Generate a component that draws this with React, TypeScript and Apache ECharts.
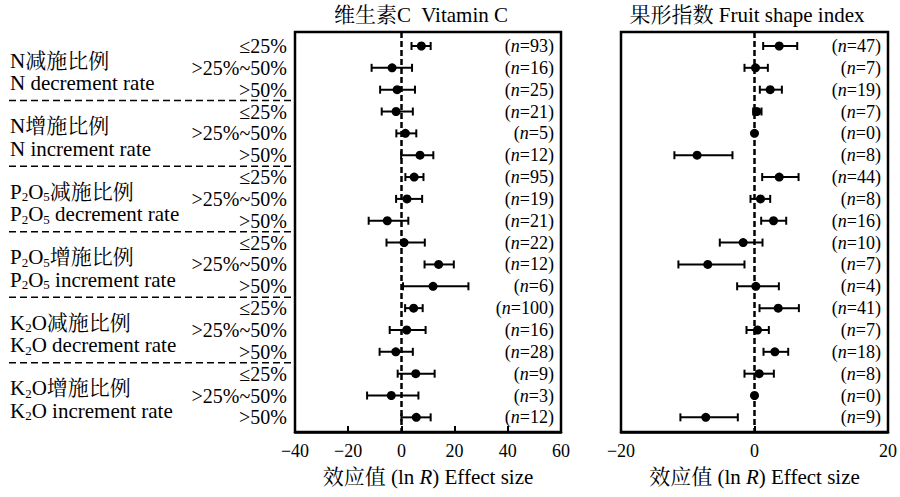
import React, { useEffect, useRef } from 'react';
import * as echarts from 'echarts';

// ---------- data ----------
const groupZh = ['N减施比例', 'N增施比例', 'P₂O₅减施比例', 'P₂O₅增施比例', 'K₂O减施比例', 'K₂O增施比例'];
const groupEn = ['N decrement rate', 'N increment rate', 'P₂O₅ decrement rate', 'P₂O₅ increment rate', 'K₂O decrement rate', 'K₂O increment rate'];
const levels = ['≤25%', '>25%~50%', '>50%'];

const vcTitle = '维生素C  Vitamin C';
const fsTitle = '果形指数 Fruit shape index';

const vcMean = [7.5, -3.5, -1.6, -2.0, 1.5, 7.0, 4.8, 2.1, -5.3, 1.0, 14.0, 11.9, 4.6, 2.0, -2.1, 5.4, -3.8, 5.6];
const vcLow = [3.8, -11.2, -8.0, -7.4, -1.9, -0.1, 1.5, -2.0, -12.3, -5.6, 8.7, 0.6, 1.4, -4.4, -8.2, -1.4, -12.9, 0.0];
const vcHigh = [11.0, 4.0, 5.1, 4.3, 5.6, 12.0, 8.3, 7.8, 2.6, 8.8, 19.7, 25.2, 8.0, 9.1, 4.3, 12.5, 6.4, 11.0];
const vcN = [93, 16, 25, 21, 5, 12, 95, 19, 21, 22, 12, 6, 100, 16, 28, 9, 3, 12];

const fsMean = [3.7, 0.15, 2.35, 0.35, 0, -8.6, 3.7, 0.9, 2.85, -1.7, -7.0, 0.2, 3.55, 0.45, 3.05, 0.7, 0, -7.3];
const fsLow = [1.3, -1.5, 0.8, -0.2, null, -12.0, 1.15, -0.6, 1.0, -5.2, -11.4, -2.6, 0.75, -1.2, 1.35, -1.5, null, -11.1];
const fsHigh = [6.4, 2.0, 4.1, 1.05, null, -3.3, 6.6, 2.35, 4.75, 1.2, -1.5, 3.65, 6.65, 2.15, 5.05, 2.9, null, -2.5];
const fsN = [47, 7, 19, 7, 0, 8, 44, 8, 16, 10, 7, 4, 41, 7, 18, 8, 0, 9];

const vcTicks = { min: -40, max: 60, interval: 20 };
const fsTicks = { min: -20, max: 20, interval: 20 };

// ---------- styling ----------
const FONT = "'Liberation Serif', 'Times New Roman', 'Noto Serif CJK SC', 'Noto Sans CJK SC', serif";
const BLACK = '#000';

const toRich = (s: string) => s.replace(/₂/g, '{s|2}').replace(/₅/g, '{s|5}');
const subRich = { s: { fontSize: 13, fontFamily: FONT, fill: BLACK, color: BLACK, padding: [10, 0, 0, 0] } };

const rowIdx = vcMean.map((_, i) => i);

function buildPanel(idx: number, mean: number[], low: (number | null)[], high: (number | null)[], nArr: number[], withLabels: boolean) {
  const series: any[] = [];
  series.push({
    type: 'custom',
    xAxisIndex: idx,
    yAxisIndex: idx,
    clip: false,
    silent: true,
    data: rowIdx.map((i) => [low[i] == null ? NaN : low[i], high[i] == null ? NaN : high[i], i]),
    renderItem: (params: any, api: any) => {
      const lo = api.value(0);
      const hi = api.value(1);
      const r = api.value(2);
      if (isNaN(lo) || isNaN(hi)) return { type: 'group', children: [] };
      const p1 = api.coord([lo, r]);
      const p2 = api.coord([hi, r]);
      const h = 4;
      const st = { stroke: BLACK, lineWidth: 2 };
      return {
        type: 'group',
        children: [
          { type: 'line', shape: { x1: p1[0], y1: p1[1], x2: p2[0], y2: p2[1] }, style: st },
          { type: 'line', shape: { x1: p1[0], y1: p1[1] - h, x2: p1[0], y2: p1[1] + h }, style: st },
          { type: 'line', shape: { x1: p2[0], y1: p2[1] - h, x2: p2[0], y2: p2[1] + h }, style: st },
        ],
      };
    },
    z: 3,
  });
  series.push({
    type: 'scatter',
    xAxisIndex: idx,
    yAxisIndex: idx,
    symbol: 'circle',
    symbolSize: 9,
    itemStyle: { color: BLACK, opacity: 1 },
    data: rowIdx.map((i) => [mean[i], i]),
    z: 4,
    markLine: {
      silent: true,
      symbol: 'none',
      label: { show: false },
      lineStyle: { color: BLACK, type: [6, 3], width: 2.5, opacity: 1 },
      data: [{ xAxis: 0 }],
      z: 2,
    },
  });
  series.push({
    type: 'custom',
    xAxisIndex: idx,
    yAxisIndex: idx,
    clip: false,
    silent: true,
    data: rowIdx.map((i) => [i, nArr[i]]),
    renderItem: (params: any, api: any) => {
      const r = api.value(0);
      const n = api.value(1);
      const y = api.coord([0, r])[1];
      const cs = params.coordSys;
      return {
        type: 'text',
        x: cs.x + cs.width - 7,
        y,
        style: {
          text: `({i|n}=${n})`,
          align: 'right', textAlign: 'right',
          verticalAlign: 'middle', textVerticalAlign: 'middle',
          fontSize: 18, fontFamily: FONT, fill: BLACK,
          rich: { i: { fontStyle: 'italic', fontSize: 18, fontFamily: FONT, fill: BLACK } },
        },
      };
    },
    z: 5,
  });
  if (withLabels) {
    series.push({
      type: 'custom',
      xAxisIndex: idx,
      yAxisIndex: idx,
      clip: false,
      silent: true,
      data: rowIdx.map((i) => [i]),
      renderItem: (params: any, api: any) => {
        const r = api.value(0);
        const y = api.coord([0, r])[1];
        const cs = params.coordSys;
        return {
          type: 'text',
          x: cs.x - 8,
          y,
          style: {
            text: levels[r % 3],
            align: 'right', textAlign: 'right',
            verticalAlign: 'middle', textVerticalAlign: 'middle',
            fontSize: 20, fontFamily: FONT, fill: BLACK,
          },
        };
      },
    });
    series.push({
      type: 'custom',
      xAxisIndex: idx,
      yAxisIndex: idx,
      clip: false,
      silent: true,
      data: groupZh.map((_, g) => [g]),
      renderItem: (params: any, api: any) => {
        const g = api.value(0);
        const r0 = g * 3;
        const cs = params.coordSys;
        const y1 = api.coord([0, r0 + 0.67])[1];
        const y2 = api.coord([0, r0 + 1.7])[1];
        const ys = api.coord([0, r0 + 2.5])[1];
        const tStyle = (text: string) => ({
          text: toRich(text),
          align: 'left', textAlign: 'left',
          verticalAlign: 'middle', textVerticalAlign: 'middle',
          fontSize: 21, fontFamily: FONT, fill: BLACK,
          rich: subRich,
        });
        const children: any[] = [
          { type: 'text', x: 10, y: y1, style: tStyle(groupZh[g]) },
          { type: 'text', x: 10, y: y2, style: tStyle(groupEn[g]) },
        ];
        if (g < groupZh.length - 1) {
          children.push({
            type: 'line',
            shape: { x1: 9, y1: ys, x2: cs.x, y2: ys },
            style: { stroke: BLACK, lineWidth: 1.5, lineDash: [7, 4] },
          });
        }
        return { type: 'group', children };
      },
    });
  }
  return series;
}

const minusFmt = (v: number) => (v < 0 ? '−' + Math.abs(v) : String(v));

function xAxis(idx: number, t: { min: number; max: number; interval: number }) {
  return {
    type: 'value',
    gridIndex: idx,
    min: t.min,
    max: t.max,
    interval: t.interval,
    axisLine: { show: true, onZero: false, lineStyle: { color: BLACK, width: 2.5 } },
    splitLine: { show: false },
    axisTick: { show: true, inside: true, length: 6, lineStyle: { color: BLACK, width: 2 } },
    axisLabel: { color: BLACK, fontSize: 18, fontFamily: FONT, margin: 10, formatter: minusFmt },
    name: '效应值 (ln {i|R}) Effect size',
    nameLocation: 'middle',
    nameGap: 34,
    nameTextStyle: {
      color: BLACK, fontSize: 21, fontFamily: FONT,
      rich: { i: { fontStyle: 'italic', fontSize: 21, fontFamily: FONT, color: BLACK } },
    },
  };
}

function yAxis(idx: number) {
  return { type: 'value', gridIndex: idx, inverse: true, min: -0.64, max: 17.67, show: false };
}

export default function App() {
  const ref = useRef<HTMLDivElement>(null);
  useEffect(() => {
    if (!ref.current) return;
    const chart = echarts.init(ref.current, undefined, { renderer: 'svg' });
    const option: any = {
      animation: false,
      backgroundColor: '#fff',
      grid: [
        { left: 295, top: 32, width: 266, height: 400, show: true, borderColor: BLACK, borderWidth: 2.5, backgroundColor: 'transparent' },
        { left: 621, top: 32, width: 268, height: 400, show: true, borderColor: BLACK, borderWidth: 2.5, backgroundColor: 'transparent' },
      ],
      xAxis: [xAxis(0, vcTicks), xAxis(1, fsTicks)],
      yAxis: [yAxis(0), yAxis(1)],
      graphic: [
        { type: 'text', x: 421, y: 15, style: { text: vcTitle, textAlign: 'center', textVerticalAlign: 'middle', align: 'center', verticalAlign: 'middle', fontSize: 21, fontFamily: FONT, fill: BLACK } },
        { type: 'text', x: 747, y: 15, style: { text: fsTitle, textAlign: 'center', textVerticalAlign: 'middle', align: 'center', verticalAlign: 'middle', fontSize: 21, fontFamily: FONT, fill: BLACK } },
      ],
      series: [
        ...buildPanel(0, vcMean, vcLow, vcHigh, vcN, true),
        ...buildPanel(1, fsMean, fsLow, fsHigh, fsN, false),
      ],
    };
    chart.setOption(option);
    return () => chart.dispose();
  }, []);
  return <div ref={ref} style={{ position: 'fixed', left: 0, top: 0, width: 900, height: 497 }} />;
}
